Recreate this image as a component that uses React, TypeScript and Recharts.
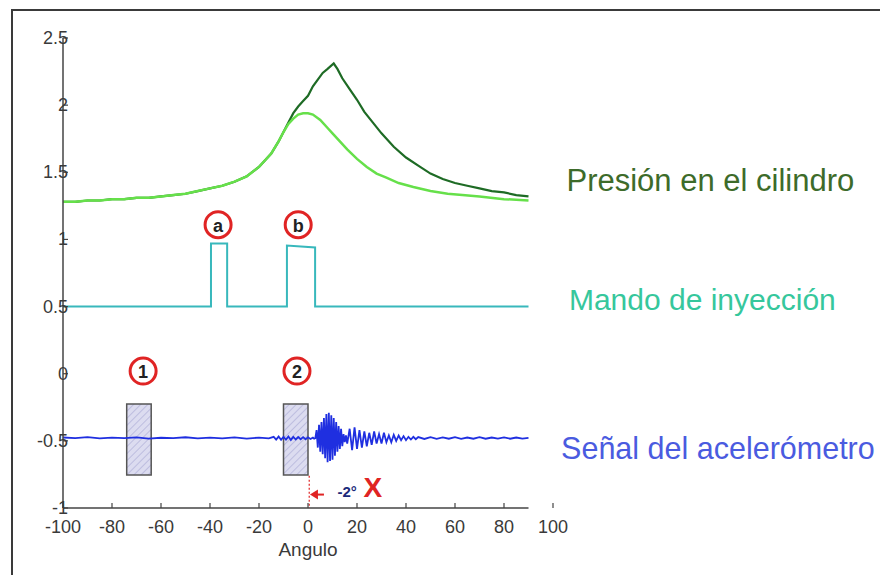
import { LineChart, Line, XAxis, YAxis, ReferenceArea, ReferenceDot, ReferenceLine } from 'recharts';

type Pt = [number, number];

// ejes
const angleTicks = [-100, -80, -60, -40, -20, 0, 20, 40, 60, 80, 100];
const valueTicks = [-1, -0.5, 0, 0.5, 1, 1.5, 2, 2.5];

// presión: tramo común (antes de la inyección)
const pressureShared: Pt[] = [
  [-100, 1.28], [-95, 1.28], [-90, 1.29], [-85, 1.29], [-80, 1.3], [-75, 1.3], [-70, 1.31],
  [-65, 1.31], [-60, 1.32], [-55, 1.33], [-50, 1.34], [-45, 1.36], [-40, 1.38], [-35, 1.4],
  [-30, 1.43], [-25, 1.47], [-20, 1.54], [-15, 1.64], [-12, 1.73],
];

// presión con combustión (verde oscuro)
const pressureFired: Pt[] = [
  [-10, 1.8], [-8, 1.87], [-6, 1.94], [-4, 1.99], [-2, 2.03], [0, 2.07], [2, 2.14], [4, 2.19],
  [6, 2.24], [8, 2.27], [10.5, 2.31], [12, 2.27], [14, 2.2], [17, 2.12], [20, 2.04], [23, 1.95],
  [26.5, 1.87], [30, 1.79], [35, 1.69], [40, 1.61], [45, 1.55], [50, 1.49], [55, 1.45], [60, 1.42],
  [65, 1.4], [70, 1.38], [75, 1.36], [80, 1.35], [85, 1.33], [90, 1.32],
];

// presión de arrastre (verde claro)
const pressureMotored: Pt[] = [
  [-10, 1.8], [-8, 1.86], [-6, 1.9], [-4, 1.93], [-2, 1.94], [0, 1.94], [2, 1.93], [5, 1.89],
  [8, 1.83], [10, 1.79], [13, 1.73], [16, 1.67], [20, 1.6], [24, 1.54], [28, 1.49], [32, 1.46],
  [37, 1.42], [43, 1.39], [50, 1.36], [57, 1.34], [63, 1.33], [70, 1.32], [80, 1.3], [90, 1.29],
];

// mando de inyección (pulsos a y b)
const injection: Pt[] = [
  [-100, 0.5], [-39.6, 0.5], [-39.6, 0.97], [-33, 0.97], [-33, 0.5],
  [-8.6, 0.5], [-8.6, 0.955], [2.9, 0.94], [2.9, 0.5], [90, 0.5],
];

// acelerómetro
const accelBefore: Pt[] = [
  [-100, -0.475], [-95, -0.48], [-90, -0.472], [-85, -0.482], [-80, -0.476], [-75, -0.48],
  [-70, -0.474], [-65, -0.483], [-60, -0.477], [-55, -0.48], [-50, -0.473], [-45, -0.482],
  [-40, -0.476], [-35, -0.481], [-30, -0.474], [-25, -0.483], [-20, -0.476], [-16, -0.482],
  [-14, -0.47], [-13, -0.49], [-12, -0.468], [-11, -0.492], [-10, -0.47], [-9, -0.49],
  [-8, -0.468], [-7, -0.493], [-6, -0.47], [-5, -0.49], [-4, -0.472], [-3, -0.488],
  [-2, -0.472], [-1, -0.488], [0, -0.474], [1, -0.486], [2, -0.476], [2.5, -0.484],
];
const accelBurst: Pt[] = [
  [3, -0.48], [3.5, -0.42], [4, -0.55], [4.5, -0.38], [5, -0.58], [5.5, -0.36], [6, -0.6],
  [6.5, -0.33], [7, -0.63], [7.5, -0.3], [8, -0.66], [8.5, -0.29], [9, -0.65], [9.5, -0.31],
  [10, -0.64], [10.5, -0.33], [11, -0.61], [11.5, -0.36], [12, -0.58], [12.5, -0.39],
  [13, -0.56], [13.5, -0.41], [14, -0.54], [14.5, -0.45], [15, -0.51], [15.5, -0.46],
  [16, -0.52], [17, -0.41], [18, -0.57], [19, -0.4], [20, -0.56], [21, -0.42], [22, -0.55],
  [23, -0.43], [24, -0.54], [25, -0.44], [26, -0.53], [27, -0.43], [28, -0.52], [29, -0.45],
  [30, -0.52], [31, -0.44], [32, -0.51], [33, -0.46], [34, -0.51], [35, -0.455], [36, -0.5],
  [37, -0.46], [38, -0.495], [39, -0.465], [40, -0.495], [41, -0.47], [42, -0.49],
  [43, -0.47], [44, -0.488], [45, -0.472],
];
const accelAfter: Pt[] = [
  [47.5, -0.486], [50, -0.473], [52.5, -0.485], [55, -0.474], [57.5, -0.484], [60, -0.472],
  [62.5, -0.485], [65, -0.475], [67.5, -0.484], [70, -0.473], [72.5, -0.484], [75, -0.475],
  [77.5, -0.483], [80, -0.474], [82.5, -0.484], [85, -0.475], [87.5, -0.483], [90, -0.477],
];

// anotaciones
const tagLabels = ['a', 'b', '1', '2'];
const tagAngles = [-36.7, -4, -67.3, -4.5];
const tagLevels = [1.11, 1.11, 0.02, 0.02];
const windowStarts = [-74, -10];
const windowEnds = [-64, 0];

const rows = (pts: Pt[]) => pts.map(([x, y]) => ({ x, y }));

const font = 'Liberation Sans, Arial, sans-serif';

const YTick = ({ x, y, payload }: any) => {
  const ax = x + 8;
  return (
    <g>
      <line x1={ax} x2={ax + 5} y1={y} y2={y} stroke="#444" strokeWidth={1.2} />
      <text x={ax + 5} y={y} textAnchor="end" dominantBaseline="central" fontSize={18} fill="#3a3a3a" fontFamily={font}>
        {String(payload.value)}
      </text>
    </g>
  );
};

const XTick = ({ x, y, payload }: any) => {
  const ay = y - 8;
  return (
    <g>
      <line x1={x} x2={x} y1={ay} y2={ay - 5} stroke="#444" strokeWidth={1.2} />
      <text x={x} y={ay + 19} textAnchor="middle" dominantBaseline="central" fontSize={18} fill="#3a3a3a" fontFamily={font}>
        {String(payload.value)}
      </text>
    </g>
  );
};

const Tag = ({ cx, cy, text }: any) => (
  <g>
    <circle cx={cx} cy={cy} r={13} fill="#fff" stroke="#e02424" strokeWidth={3} />
    <text x={cx} y={cy + 1} textAnchor="middle" dominantBaseline="central" fontSize={18} fontWeight="bold" fill="#222" fontFamily={font}>
      {text}
    </text>
  </g>
);

const SideLabel = ({ cx, cy, text, color, size }: any) => (
  <text x={cx} y={cy} dominantBaseline="central" fontSize={size} fill={color} fontFamily={font}>
    {text}
  </text>
);

export default function App() {
  return (
    <div style={{ position: 'absolute', left: 0, top: 0, width: 880, height: 575, background: '#fff' }}>
      <div style={{ position: 'absolute', left: 11, top: 9, right: 0, bottom: 0, borderTop: '2px solid #3a3a3a', borderLeft: '2px solid #3a3a3a' }} />
      <div style={{ position: 'absolute', left: 0, top: 0 }}>
        <LineChart width={880} height={575} margin={{ top: 38, right: 327, bottom: 17, left: 13 }} style={{ fontFamily: font }}>
          <defs>
            <pattern id="hatch" width={5} height={5} patternUnits="userSpaceOnUse" patternTransform="rotate(45)">
              <rect width={5} height={5} fill="#dcdcf0" />
              <line x1={0} y1={0} x2={0} y2={5} stroke="#a8a8d4" strokeWidth={1.2} />
            </pattern>
          </defs>
          <XAxis
            type="number"
            dataKey="x"
            domain={[-100, 100]}
            ticks={angleTicks}
            axisLine={false}
            tickLine={false}
            tick={<XTick />}
            height={50}
            allowDataOverflow
            label={{ value: 'Angulo', position: 'insideBottom', offset: 2, fontSize: 19, fill: '#3a3a3a' }}
          />
          <YAxis
            type="number"
            dataKey="y"
            domain={[-1, 2.5]}
            ticks={valueTicks}
            width={50}
            tickLine={false}
            tick={<YTick />}
            axisLine={{ stroke: '#444', strokeWidth: 1.5 }}
            allowDataOverflow
          />
          <ReferenceLine segment={[{ x: -100, y: -1 }, { x: 90, y: -1 }]} stroke="#444" strokeWidth={1.5} />

          {windowStarts.map((x1, i) => (
            <ReferenceArea key={i} x1={x1} x2={windowEnds[i]} y1={-0.755} y2={-0.226} fill="url(#hatch)" fillOpacity={1} stroke="#555" strokeWidth={1.5} />
          ))}

          <Line data={rows([...pressureShared, ...pressureFired])} dataKey="y" stroke="#1e6b25" strokeWidth={2.2} dot={false} isAnimationActive={false} />
          <Line data={rows([...pressureShared, ...pressureMotored])} dataKey="y" stroke="#66e04a" strokeWidth={2.5} dot={false} isAnimationActive={false} />
          <Line data={rows(injection)} dataKey="y" stroke="#38b8bc" strokeWidth={2} dot={false} isAnimationActive={false} />
          <Line data={rows([...accelBefore, ...accelBurst, ...accelAfter])} dataKey="y" stroke="#1f2fe0" strokeWidth={1.8} dot={false} isAnimationActive={false} />

          <ReferenceLine segment={[{ x: 0.5, y: -0.76 }, { x: 0.5, y: -1 }]} stroke="#e02424" strokeWidth={1.2} strokeDasharray="2 2" />
          <ReferenceDot
            x={0.8}
            y={-0.9}
            ifOverflow="visible"
            shape={(p: any) => (
              <g>
                <line x1={p.cx + 5} x2={p.cx + 14} y1={p.cy} y2={p.cy} stroke="#e02424" strokeWidth={2} />
                <path d={`M${p.cx},${p.cy} L${p.cx + 8},${p.cy - 5} L${p.cx + 8},${p.cy + 5} Z`} fill="#e02424" />
              </g>
            )}
          />
          <ReferenceDot
            x={16}
            y={-0.88}
            ifOverflow="visible"
            shape={(p: any) => (
              <text x={p.cx} y={p.cy} textAnchor="middle" dominantBaseline="central" fontSize={15} fontWeight="bold" fill="#1c2a7a" fontFamily={font}>
                -2°
              </text>
            )}
          />
          <ReferenceDot
            x={26.5}
            y={-0.85}
            ifOverflow="visible"
            shape={(p: any) => (
              <text x={p.cx} y={p.cy} textAnchor="middle" dominantBaseline="central" fontSize={28} fontWeight="bold" fill="#e02424" fontFamily={font}>
                X
              </text>
            )}
          />

          {tagLabels.map((t, i) => (
            <ReferenceDot key={t} x={tagAngles[i]} y={tagLevels[i]} ifOverflow="visible" shape={(p: any) => <Tag cx={p.cx} cy={p.cy} text={t} />} />
          ))}

          <ReferenceDot x={105.5} y={1.44} ifOverflow="visible" shape={(p: any) => <SideLabel cx={p.cx} cy={p.cy} size={31} text="Presión en el cilindro" color="#3d6b2a" />} />
          <ReferenceDot x={106.5} y={0.55} ifOverflow="visible" shape={(p: any) => <SideLabel cx={p.cx} cy={p.cy} size={30} text="Mando de inyección" color="#36c79c" />} />
          <ReferenceDot x={103.3} y={-0.55} ifOverflow="visible" shape={(p: any) => <SideLabel cx={p.cx} cy={p.cy} size={30.5} text="Señal del acelerómetro" color="#4a5be0" />} />
        </LineChart>
      </div>
    </div>
  );
}
